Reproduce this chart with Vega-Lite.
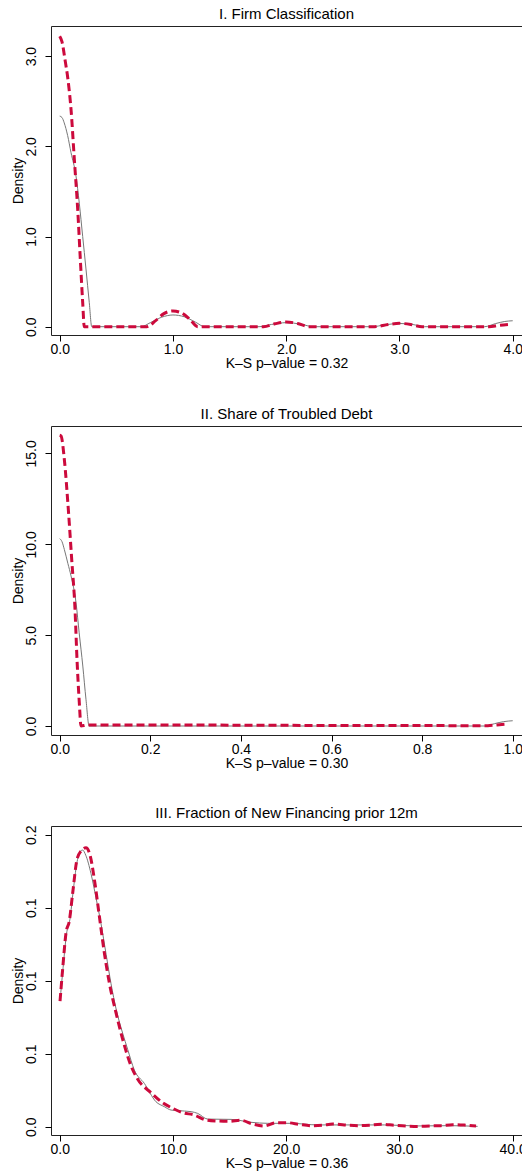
{
  "$schema": "https://vega.github.io/schema/vega-lite/v6.json",
  "padding": {"top": 6, "left": 10, "right": 0, "bottom": 0},
  "background": "white",
  "spacing": 91,
  "bounds": "flush",
  "config": {
    "font": "Liberation Sans",
    "view": {"stroke": "#222", "strokeWidth": 1},
    "axis": {
      "labelFont": "Liberation Sans", "labelFontSize": 14, "labelColor": "#000",
      "titleFont": "Liberation Sans", "titleFontSize": 14, "titleFontWeight": "normal", "titleColor": "#000",
      "tickColor": "#000", "tickSize": 6, "domain": false, "grid": false
    },
    "axisX": {"labelPadding": 1, "titlePadding": 0, "labelFlush": false, "labelOverlap": false},
    "axisY": {"labelAngle": -90, "labelAlign": "center", "labelBaseline": "bottom", "labelPadding": 7, "titlePadding": -1, "labelOverlap": false},
    "title": {"font": "Liberation Sans", "fontSize": 15, "fontWeight": "normal", "color": "#000", "anchor": "middle", "offset": 4}
  },
  "datasets": {
    "p1": [
      {"series": "control", "x": 0, "density": 2.335},
      {"series": "control", "x": 0.02, "density": 2.32},
      {"series": "control", "x": 0.04, "density": 2.26},
      {"series": "control", "x": 0.07, "density": 2.12},
      {"series": "control", "x": 0.1, "density": 1.93},
      {"series": "control", "x": 0.144, "density": 1.67},
      {"series": "control", "x": 0.173, "density": 1.37},
      {"series": "control", "x": 0.203, "density": 1.0},
      {"series": "control", "x": 0.232, "density": 0.64},
      {"series": "control", "x": 0.261, "density": 0.27},
      {"series": "control", "x": 0.283, "density": 0.0},
      {"series": "control", "x": 0.72, "density": 0.0},
      {"series": "control", "x": 0.8, "density": 0.045},
      {"series": "control", "x": 0.9, "density": 0.105},
      {"series": "control", "x": 1.0, "density": 0.13},
      {"series": "control", "x": 1.1, "density": 0.11},
      {"series": "control", "x": 1.2, "density": 0.05},
      {"series": "control", "x": 1.28, "density": 0.0},
      {"series": "control", "x": 1.76, "density": 0.0},
      {"series": "control", "x": 1.87, "density": 0.025},
      {"series": "control", "x": 2.0, "density": 0.045},
      {"series": "control", "x": 2.13, "density": 0.028},
      {"series": "control", "x": 2.24, "density": 0.0},
      {"series": "control", "x": 2.76, "density": 0.0},
      {"series": "control", "x": 2.87, "density": 0.02},
      {"series": "control", "x": 3.0, "density": 0.036},
      {"series": "control", "x": 3.12, "density": 0.024},
      {"series": "control", "x": 3.22, "density": 0.0},
      {"series": "control", "x": 3.75, "density": 0.0},
      {"series": "control", "x": 3.85, "density": 0.035},
      {"series": "control", "x": 3.93, "density": 0.058},
      {"series": "control", "x": 4.0, "density": 0.066},
      {"series": "treated", "x": 0, "density": 3.22},
      {"series": "treated", "x": 0.02, "density": 3.16},
      {"series": "treated", "x": 0.047, "density": 2.96},
      {"series": "treated", "x": 0.075, "density": 2.72},
      {"series": "treated", "x": 0.1, "density": 2.41},
      {"series": "treated", "x": 0.129, "density": 1.86},
      {"series": "treated", "x": 0.159, "density": 1.3},
      {"series": "treated", "x": 0.182, "density": 0.75},
      {"series": "treated", "x": 0.203, "density": 0.27},
      {"series": "treated", "x": 0.217, "density": 0.0},
      {"series": "treated", "x": 0.77, "density": 0.0},
      {"series": "treated", "x": 0.85, "density": 0.07},
      {"series": "treated", "x": 0.92, "density": 0.145},
      {"series": "treated", "x": 1.0, "density": 0.174},
      {"series": "treated", "x": 1.08, "density": 0.15},
      {"series": "treated", "x": 1.15, "density": 0.08},
      {"series": "treated", "x": 1.22, "density": 0.0},
      {"series": "treated", "x": 1.8, "density": 0.0},
      {"series": "treated", "x": 1.9, "density": 0.032},
      {"series": "treated", "x": 2.0, "density": 0.052},
      {"series": "treated", "x": 2.1, "density": 0.036},
      {"series": "treated", "x": 2.2, "density": 0.0},
      {"series": "treated", "x": 2.78, "density": 0.0},
      {"series": "treated", "x": 2.9, "density": 0.025},
      {"series": "treated", "x": 3.0, "density": 0.037},
      {"series": "treated", "x": 3.1, "density": 0.025},
      {"series": "treated", "x": 3.2, "density": 0.0},
      {"series": "treated", "x": 3.79, "density": 0.0},
      {"series": "treated", "x": 3.88, "density": 0.015},
      {"series": "treated", "x": 3.97, "density": 0.026}
    ],
    "p2": [
      {"series": "control", "x": 0, "density": 10.31},
      {"series": "control", "x": 0.005, "density": 10.15},
      {"series": "control", "x": 0.0102, "density": 9.72},
      {"series": "control", "x": 0.018, "density": 8.95},
      {"series": "control", "x": 0.025, "density": 8.26},
      {"series": "control", "x": 0.036, "density": 6.79},
      {"series": "control", "x": 0.043, "density": 5.13},
      {"series": "control", "x": 0.051, "density": 3.3},
      {"series": "control", "x": 0.058, "density": 1.47},
      {"series": "control", "x": 0.065, "density": 0.0},
      {"series": "control", "x": 0.94, "density": 0.0},
      {"series": "control", "x": 0.96, "density": 0.13},
      {"series": "control", "x": 0.98, "density": 0.24},
      {"series": "control", "x": 1.0, "density": 0.29},
      {"series": "treated", "x": 0, "density": 16.0},
      {"series": "treated", "x": 0.003, "density": 15.96},
      {"series": "treated", "x": 0.0102, "density": 14.68},
      {"series": "treated", "x": 0.019, "density": 11.93},
      {"series": "treated", "x": 0.0265, "density": 9.17},
      {"series": "treated", "x": 0.0338, "density": 6.42},
      {"series": "treated", "x": 0.0382, "density": 3.67},
      {"series": "treated", "x": 0.0433, "density": 1.28},
      {"series": "treated", "x": 0.047, "density": 0.0},
      {"series": "treated", "x": 0.06, "density": 0.05},
      {"series": "treated", "x": 0.3, "density": 0.05},
      {"series": "treated", "x": 0.6, "density": 0.03},
      {"series": "treated", "x": 0.945, "density": 0.02},
      {"series": "treated", "x": 0.965, "density": 0.06},
      {"series": "treated", "x": 0.99, "density": 0.11}
    ],
    "p3": [
      {"series": "control", "x": 0.03, "density": 0.0861},
      {"series": "control", "x": 0.3, "density": 0.109},
      {"series": "control", "x": 0.6, "density": 0.132},
      {"series": "control", "x": 0.9, "density": 0.142},
      {"series": "control", "x": 1.2, "density": 0.162},
      {"series": "control", "x": 1.5, "density": 0.18},
      {"series": "control", "x": 1.8, "density": 0.1885},
      {"series": "control", "x": 2.03, "density": 0.1895},
      {"series": "control", "x": 2.3, "density": 0.186},
      {"series": "control", "x": 2.76, "density": 0.1735},
      {"series": "control", "x": 3.2, "density": 0.157},
      {"series": "control", "x": 3.65, "density": 0.139},
      {"series": "control", "x": 4.1, "density": 0.118},
      {"series": "control", "x": 4.53, "density": 0.098},
      {"series": "control", "x": 5.0, "density": 0.08},
      {"series": "control", "x": 5.56, "density": 0.064},
      {"series": "control", "x": 6.0, "density": 0.053},
      {"series": "control", "x": 6.59, "density": 0.0388},
      {"series": "control", "x": 7.47, "density": 0.0297},
      {"series": "control", "x": 8.5, "density": 0.0171},
      {"series": "control", "x": 9.24, "density": 0.0137},
      {"series": "control", "x": 9.83, "density": 0.0114},
      {"series": "control", "x": 10.42, "density": 0.011},
      {"series": "control", "x": 11.6, "density": 0.0103},
      {"series": "control", "x": 12.18, "density": 0.0091},
      {"series": "control", "x": 13.07, "density": 0.0052},
      {"series": "control", "x": 15.13, "density": 0.005},
      {"series": "control", "x": 16.9, "density": 0.003},
      {"series": "control", "x": 18.37, "density": 0.0023},
      {"series": "control", "x": 20.4, "density": 0.0023},
      {"series": "control", "x": 22.8, "density": 0.0012},
      {"series": "control", "x": 25.7, "density": 0.0012},
      {"series": "control", "x": 28.7, "density": 0.0012},
      {"series": "control", "x": 31.6, "density": 0.0005},
      {"series": "control", "x": 34.4, "density": 0.0007},
      {"series": "control", "x": 36.9, "density": 0.0002},
      {"series": "treated", "x": 0.03, "density": 0.0861},
      {"series": "treated", "x": 0.26, "density": 0.1078},
      {"series": "treated", "x": 0.56, "density": 0.1329},
      {"series": "treated", "x": 0.85, "density": 0.1409},
      {"series": "treated", "x": 1.15, "density": 0.1603},
      {"series": "treated", "x": 1.53, "density": 0.1832},
      {"series": "treated", "x": 1.88, "density": 0.1888},
      {"series": "treated", "x": 2.32, "density": 0.1911},
      {"series": "treated", "x": 2.7, "density": 0.1854},
      {"series": "treated", "x": 3.06, "density": 0.1695},
      {"series": "treated", "x": 3.5, "density": 0.1443},
      {"series": "treated", "x": 3.94, "density": 0.1192},
      {"series": "treated", "x": 4.38, "density": 0.0986},
      {"series": "treated", "x": 4.97, "density": 0.0781},
      {"series": "treated", "x": 5.56, "density": 0.0599},
      {"series": "treated", "x": 6.3, "density": 0.0416},
      {"series": "treated", "x": 6.89, "density": 0.0325},
      {"series": "treated", "x": 8.06, "density": 0.0233},
      {"series": "treated", "x": 9.09, "density": 0.0164},
      {"series": "treated", "x": 9.98, "density": 0.0126},
      {"series": "treated", "x": 10.86, "density": 0.0096},
      {"series": "treated", "x": 11.89, "density": 0.008},
      {"series": "treated", "x": 12.92, "density": 0.0046},
      {"series": "treated", "x": 13.95, "density": 0.0039},
      {"series": "treated", "x": 14.98, "density": 0.0037},
      {"series": "treated", "x": 16.0, "density": 0.0044},
      {"series": "treated", "x": 17.04, "density": 0.0018},
      {"series": "treated", "x": 18.07, "density": 0.0005},
      {"series": "treated", "x": 19.1, "density": 0.0027},
      {"series": "treated", "x": 20.13, "density": 0.0027},
      {"series": "treated", "x": 21.16, "density": 0.0016},
      {"series": "treated", "x": 22.19, "density": 0.0007},
      {"series": "treated", "x": 23.22, "density": 0.001},
      {"series": "treated", "x": 24.1, "density": 0.0018},
      {"series": "treated", "x": 25.13, "density": 0.0012},
      {"series": "treated", "x": 26.3, "density": 0.0007},
      {"series": "treated", "x": 27.34, "density": 0.001},
      {"series": "treated", "x": 28.37, "density": 0.0016},
      {"series": "treated", "x": 29.55, "density": 0.001},
      {"series": "treated", "x": 30.58, "density": 0.0005},
      {"series": "treated", "x": 31.61, "density": 0.0002},
      {"series": "treated", "x": 32.64, "density": 0.0005},
      {"series": "treated", "x": 33.67, "density": 0.0007},
      {"series": "treated", "x": 34.7, "density": 0.0014},
      {"series": "treated", "x": 35.88, "density": 0.001},
      {"series": "treated", "x": 36.76, "density": 0.0005}
    ]
  },
  "vconcat": [
    {
      "width": 471, "height": 309,
      "title": "I. Firm Classification",
      "data": {"name": "p1"},
      "encoding": {
        "x": {"field": "x", "type": "quantitative", "scale": {"domain": [-0.0768, 4.082], "nice": false, "zero": false}, "axis": {"values": [0, 1, 2, 3, 4], "format": ".1f", "title": "K–S p–value = 0.32"}},
        "y": {"field": "density", "type": "quantitative", "scale": {"domain": [-0.092, 3.334], "nice": false, "zero": false}, "axis": {"values": [0, 1, 2, 3], "format": ".1f", "title": "Density"}}
      },
      "layer": [
        {"transform": [{"filter": "datum.series === 'control'"}], "mark": {"type": "line", "color": "#777777", "strokeWidth": 1, "clip": true, "interpolate": "monotone"}},
        {"transform": [{"filter": "datum.series === 'treated'"}], "mark": {"type": "line", "color": "#CC0A3C", "strokeWidth": 3, "strokeDash": [8, 4], "clip": true, "interpolate": "monotone"}}
      ]
    },
    {
      "width": 471, "height": 309,
      "title": "II. Share of Troubled Debt",
      "data": {"name": "p2"},
      "encoding": {
        "x": {"field": "x", "type": "quantitative", "scale": {"domain": [-0.0192, 1.0205], "nice": false, "zero": false}, "axis": {"values": [0, 0.2, 0.4, 0.6, 0.8, 1.0], "format": ".1f", "title": "K–S p–value = 0.30"}},
        "y": {"field": "density", "type": "quantitative", "scale": {"domain": [-0.495, 16.51], "nice": false, "zero": false}, "axis": {"values": [0, 5, 10, 15], "format": ".1f", "title": "Density"}}
      },
      "layer": [
        {"transform": [{"filter": "datum.series === 'control'"}], "mark": {"type": "line", "color": "#777777", "strokeWidth": 1, "clip": true, "interpolate": "monotone"}},
        {"transform": [{"filter": "datum.series === 'treated'"}], "mark": {"type": "line", "color": "#CC0A3C", "strokeWidth": 3, "strokeDash": [8, 4], "clip": true, "interpolate": "monotone"}}
      ]
    },
    {
      "width": 471, "height": 309,
      "title": "III. Fraction of New Financing prior 12m",
      "data": {"name": "p3"},
      "encoding": {
        "x": {"field": "x", "type": "quantitative", "scale": {"domain": [-0.768, 40.82], "nice": false, "zero": false}, "axis": {"values": [0, 10, 20, 30, 40], "format": ".1f", "title": "K–S p–value = 0.36"}},
        "y": {"field": "density", "type": "quantitative", "scale": {"domain": [-0.0057, 0.206], "nice": false, "zero": false}, "axis": {"values": [0, 0.05, 0.1, 0.15, 0.2], "format": ".1f", "title": "Density"}}
      },
      "layer": [
        {"transform": [{"filter": "datum.series === 'control'"}], "mark": {"type": "line", "color": "#777777", "strokeWidth": 1, "clip": true, "interpolate": "monotone"}},
        {"transform": [{"filter": "datum.series === 'treated'"}], "mark": {"type": "line", "color": "#CC0A3C", "strokeWidth": 3, "strokeDash": [8, 4], "clip": true, "interpolate": "monotone"}}
      ]
    }
  ]
}
